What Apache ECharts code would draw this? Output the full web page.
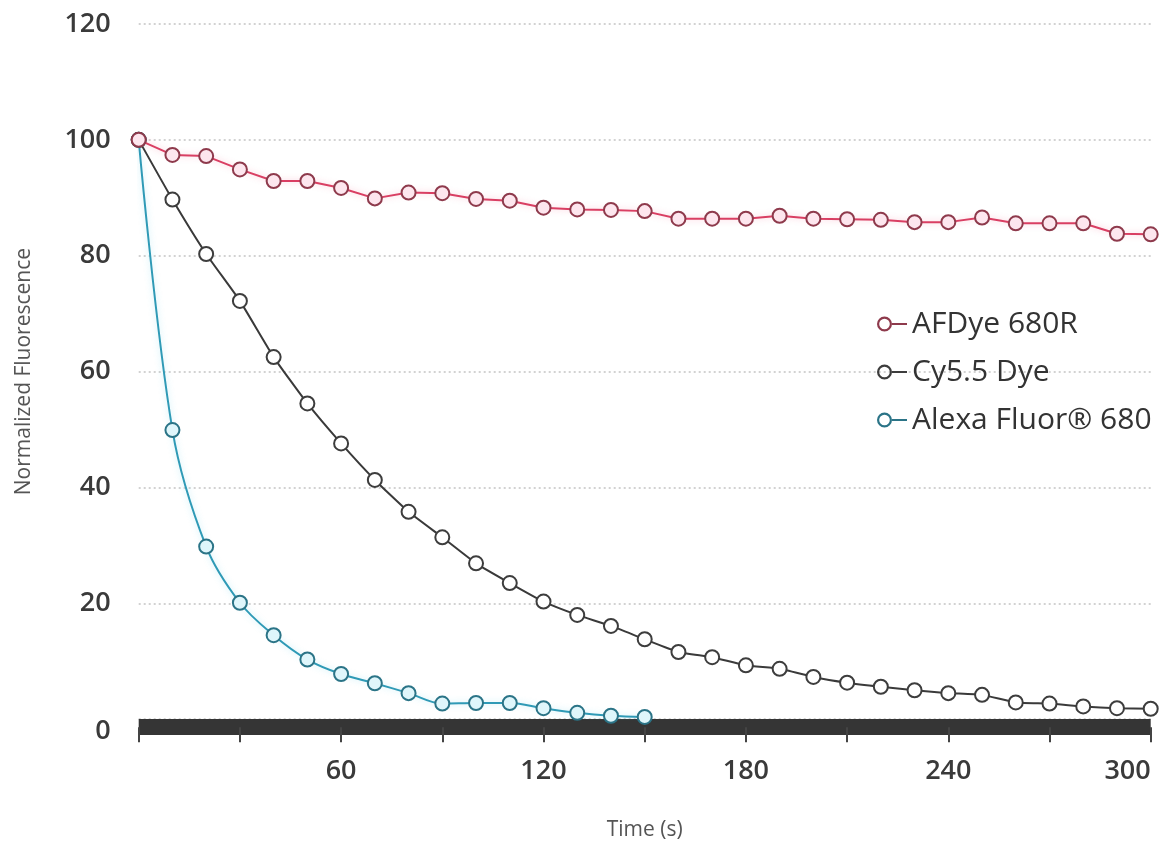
<!DOCTYPE html>
<html><head><meta charset="utf-8">
<script src="https://cdn.jsdelivr.net/npm/echarts@6/dist/echarts.min.js"></script>
<style>html,body{margin:0;padding:0;background:#fff}#c{width:1160px;height:850px}</style>
</head><body><div id="c"></div>
<script>
const timeSec = [0,10,20,30,40,50,60,70,80,90,100,110,120,130,140,150,160,170,180,190,200,210,220,230,240,250,260,270,280,290,300];
const afdye680R = [100,97.4,97.2,94.9,92.9,92.9,91.7,89.9,90.9,90.8,89.8,89.5,88.3,88.0,87.9,87.7,86.4,86.4,86.4,86.9,86.4,86.3,86.2,85.8,85.8,86.6,85.6,85.6,85.6,83.8,83.7];
const cy55Dye = [100,89.7,80.3,72.2,62.5,54.5,47.6,41.3,35.8,31.4,26.9,23.5,20.3,18.0,16.1,13.8,11.6,10.7,9.3,8.7,7.3,6.3,5.6,5.0,4.5,4.2,2.9,2.7,2.2,1.9,1.8];
const alexa680 = [100,49.9,29.8,20.1,14.5,10.3,7.8,6.2,4.5,2.7,2.8,2.8,1.9,1.1,0.6,0.4];
const seriesNames = ['AFDye 680R','Cy5.5 Dye','Alexa Fluor® 680'];
const xLabelValues = [60,120,180,240,300];

function pairs(vals){ return vals.map((v,i)=>[timeSec[i], v]); }

const iconPath = 'path://M0,7.5 A7.5,7.5 0 1,0 15,7.5 A7.5,7.5 0 1,0 0,7.5 Z M2.2,7.5 A5.3,5.3 0 1,1 12.8,7.5 A5.3,5.3 0 1,1 2.2,7.5 Z M15,6.5 L30,6.5 L30,8.5 L15,8.5 Z';

const styles = [
  {line:'#d93f63', border:'#8e3a4c', fill:'#fde6ee', glow:'rgba(240,90,130,0.35)'},
  {line:'#3a3a3a', border:'#3d3d3d', fill:'#ffffff', glow:'rgba(0,0,0,0)'},
  {line:'#2f9ab6', border:'#2b7487', fill:'#dff6fb', glow:'rgba(80,200,230,0.35)'}
];
const datas = [afdye680R, cy55Dye, alexa680];

const chart = echarts.init(document.getElementById('c'), null, {renderer:'canvas'});
chart.setOption({
  animation:false,
  backgroundColor:'#ffffff',
  grid:{left:138.7, right:9.3, top:24, bottom:130.8, containLabel:false},
  legend:{
    orient:'vertical', left:872, top:304,
    itemWidth:30, itemHeight:15, itemGap:18,
    textStyle:{fontFamily:'Open Sans', fontSize:30, fontWeight:500, color:'#333', lineHeight:26, padding:[0,0,0,0]},
    data: seriesNames.map((n,i)=>({name:n, icon:iconPath, itemStyle:{color:styles[i].border, borderWidth:0}}))
  },
  xAxis:{
    type:'value', min:0, max:300, interval:30,
    offset:8,
    name:'Time (s)', nameLocation:'middle', nameGap:92,
    nameTextStyle:{fontFamily:'Open Sans', fontSize:21, color:'#555'},
    axisLine:{show:true, onZero:false, lineStyle:{color:'#353535', width:16, cap:'butt'}},
    axisTick:{show:true, length:15, lineStyle:{color:'#444', width:2}},
    axisLabel:{margin:31, fontFamily:'Open Sans', fontSize:27, fontWeight:600, color:'#3a3a3a',
      alignMaxLabel:'right',
      formatter:v=> xLabelValues.includes(v) ? String(v) : ''},
    splitLine:{show:false}
  },
  yAxis:{
    type:'value', min:0, max:120, interval:20,
    name:'Normalized Fluorescence', nameLocation:'middle', nameGap:104,
    nameTextStyle:{fontFamily:'Open Sans', fontSize:21, color:'#555'},
    axisLine:{show:false}, axisTick:{show:false},
    axisLabel:{margin:28, fontFamily:'Open Sans', fontSize:27, fontWeight:600, color:'#3a3a3a',
      formatter:v=> v===0 ? '{z|0}' : String(v),
      rich:{z:{padding:[24,0,0,0], fontFamily:'Open Sans', fontSize:27, fontWeight:600, color:'#3a3a3a'}}},
    splitLine:{show:true, lineStyle:{color:'#c4c4c4', width:1.5, type:[2,3]}}
  },
  series: datas.map((d,i)=>({
    name:seriesNames[i], type:'line', data:pairs(d),
    smooth: i===2 ? 0.35 : (i===1 ? 0.15 : false),
    symbol:'circle', symbolSize:14,
    lineStyle:{color:styles[i].line, width:2, shadowBlur:6, shadowColor:styles[i].glow},
    itemStyle:{color:styles[i].fill, borderColor:styles[i].border, borderWidth:2},
    z: 3-i+2
  }))
});
</script></body></html>
